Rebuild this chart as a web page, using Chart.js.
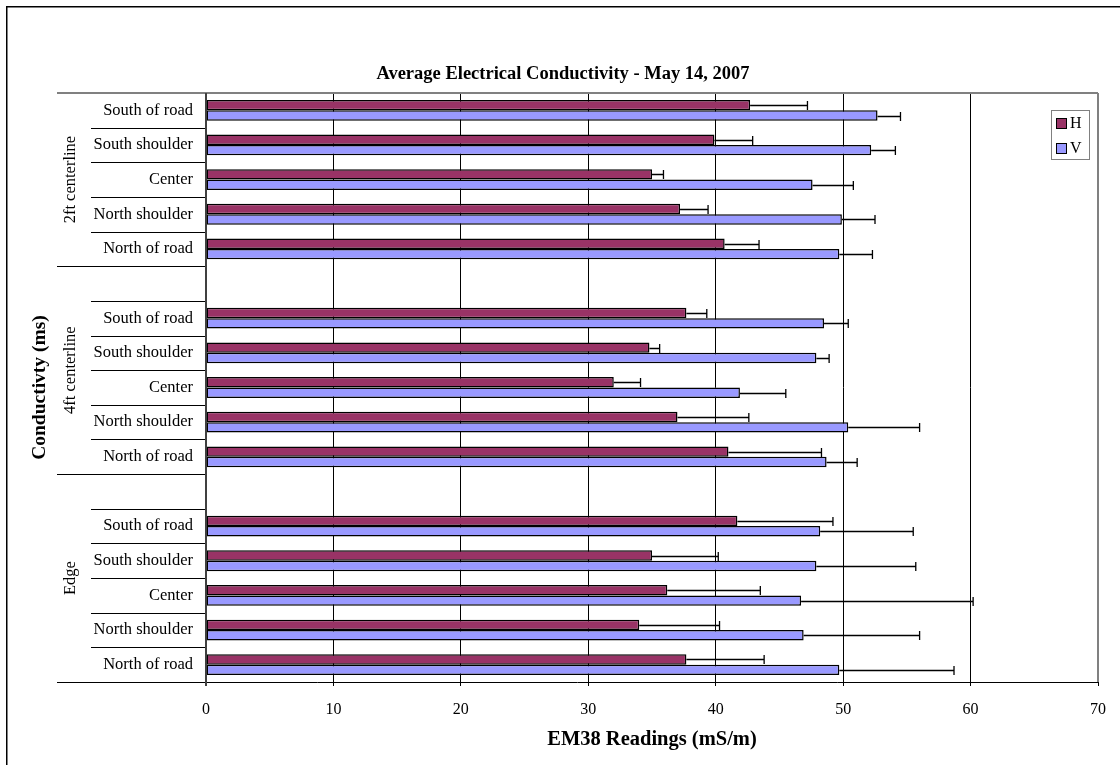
<!DOCTYPE html>
<html>
<head>
<meta charset="utf-8">
<title>Average Electrical Conductivity - May 14, 2007</title>
<script src="https://cdn.jsdelivr.net/npm/chart.js@4/dist/chart.umd.min.js"></script>
<style>
  html, body { margin: 0; padding: 0; background: #fff; }
  canvas { display: block; }
</style>
</head>
<body>
<canvas id="chart" width="1120" height="765"></canvas>
<script>
"use strict";

/* ── Datos ─────────────────────────────────────────────────────── */
const rowLabels   = ["South of road", "South shoulder", "Center", "North shoulder", "North of road"];
const groupLabels = ["2ft centerline", "4ft centerline", "Edge"];
// filas: 5 + hueco + 5 + hueco + 5
const categories  = [...rowLabels, "", ...rowLabels, "", ...rowLabels];

const hValues = [42.7, 39.9, 35.0, 37.2, 40.7, null, 37.7, 34.8, 32.0, 37.0, 41.0, null, 41.7, 35.0, 36.2, 34.0, 37.7];
const hErr    = [ 4.5,  3.0,  0.9,  2.2,  2.7, null,  1.6,  0.8,  2.1,  5.6,  7.3, null,  7.5,  5.2,  7.3,  6.3,  6.1];
const vValues = [52.7, 52.2, 47.6, 49.9, 49.7, null, 48.5, 47.9, 41.9, 50.4, 48.7, null, 48.2, 47.9, 46.7, 46.9, 49.7];
const vErr    = [ 1.8,  1.9,  3.2,  2.6,  2.6, null,  1.9,  1.0,  3.6,  5.6,  2.4, null,  7.3,  7.8, 13.5,  9.1,  9.0];

// índices (inicio, fin) de cada grupo, incluyendo la fila hueco previa
const groupRanges = [[0, 4], [5, 10], [11, 16]];

const xTicks = [0, 10, 20, 30, 40, 50, 60, 70];

/* ── Estilo ────────────────────────────────────────────────────── */
const FONT     = "'Liberation Serif', 'Times New Roman', serif";
const H_COLOR  = "#993366";
const V_COLOR  = "#9999FF";
const GRAY     = "#808080";

/* ── Plugin: fondo, marco, títulos, separadores, error bars, leyenda ── */
const decorPlugin = {
  id: "decor",
  beforeDraw(chart) {
    const { ctx, width, height } = chart;
    ctx.save();
    ctx.fillStyle = "#fff";
    ctx.fillRect(0, 0, width, height);
    ctx.restore();
  },
  afterDraw(chart) {
    const { ctx, chartArea: a, scales } = chart;
    const ys = scales.y, xs = scales.x;
    const rowH = ys.getPixelForValue(1) - ys.getPixelForValue(0);
    const edgeTop = i => ys.getPixelForValue(i) - rowH / 2;

    ctx.save();

    /* marco exterior (solo arriba/izquierda visibles) */
    ctx.strokeStyle = "#000";
    ctx.lineWidth = 1.5;
    ctx.strokeRect(6.75, 6.75, chart.width + 20, chart.height + 20);

    /* borde del área: arriba y derecha en gris */
    ctx.strokeStyle = GRAY;
    ctx.lineWidth = 2;
    ctx.beginPath();
    ctx.moveTo(a.left - 149, a.top);
    ctx.lineTo(a.right, a.top);
    ctx.moveTo(a.right, a.top);
    ctx.lineTo(a.right, a.bottom);
    ctx.stroke();

    /* separadores de categorías a la izquierda del eje */
    const groupEdges = new Set();
    groupRanges.forEach(([s, e]) => { groupEdges.add(s); groupEdges.add(e + 1); });
    ctx.strokeStyle = "#000";
    ctx.lineWidth = 1;
    for (let i = 1; i <= categories.length; i++) {
      const y = Math.round(edgeTop(i)) + 0.5;
      const x0 = groupEdges.has(i) ? a.left - 149 : a.left - 115;
      ctx.beginPath();
      ctx.moveTo(x0, y);
      ctx.lineTo(i === categories.length ? a.right : a.left, y);
      ctx.stroke();
    }

    /* eje izquierdo */
    ctx.strokeStyle = "#404040";
    ctx.lineWidth = 2;
    ctx.beginPath();
    ctx.moveTo(a.left, a.top);
    ctx.lineTo(a.left, a.bottom + 4);
    ctx.stroke();

    /* etiquetas de grupo (rotadas) */
    ctx.fillStyle = "#000";
    ctx.font = `16.5px ${FONT}`;
    ctx.textAlign = "center";
    ctx.textBaseline = "middle";
    groupRanges.forEach(([s, e], gi) => {
      const cy = (edgeTop(s) + edgeTop(e + 1)) / 2;
      ctx.save();
      ctx.translate(a.left - 135, cy);
      ctx.rotate(-Math.PI / 2);
      ctx.fillText(groupLabels[gi], 0, 0);
      ctx.restore();
    });

    /* título del eje Y */
    ctx.font = `bold 19.5px ${FONT}`;
    ctx.save();
    ctx.translate(40, (a.top + a.bottom) / 2);
    ctx.rotate(-Math.PI / 2);
    ctx.fillText("Conductivty (ms)", 0, 0);
    ctx.restore();

    /* título del eje X */
    ctx.font = `bold 20.5px ${FONT}`;
    ctx.fillText("EM38 Readings (mS/m)", (a.left + a.right) / 2, 740);

    /* título */
    ctx.font = `bold 18.5px ${FONT}`;
    ctx.fillText("Average Electrical Conductivity - May 14, 2007", 563, 74);

    /* error bars */
    const errs = [hErr, vErr];
    ctx.strokeStyle = "#000";
    ctx.lineWidth = 1.3;
    chart.data.datasets.forEach((ds, di) => {
      const meta = chart.getDatasetMeta(di);
      meta.data.forEach((bar, i) => {
        const v = ds.data[i], e = errs[di][i];
        if (v == null || e == null) return;
        const x0 = xs.getPixelForValue(v);
        const x1 = xs.getPixelForValue(v + e);
        const y  = Math.round(bar.y) + 0.5;
        ctx.beginPath();
        ctx.moveTo(x0, y);
        ctx.lineTo(x1, y);
        ctx.moveTo(x1, y - 4.5);
        ctx.lineTo(x1, y + 4.5);
        ctx.stroke();
      });
    });

    /* leyenda */
    const lx = 1051, ly = 110, lw = 38, lh = 49;
    ctx.fillStyle = "#fff";
    ctx.fillRect(lx, ly, lw, lh);
    ctx.strokeStyle = GRAY;
    ctx.lineWidth = 1;
    ctx.strokeRect(lx + 0.5, ly + 0.5, lw, lh);
    ctx.font = `16px ${FONT}`;
    ctx.textAlign = "left";
    ctx.textBaseline = "middle";
    chart.data.datasets.forEach((ds, di) => {
      const cy = ly + 13 + di * 25;
      ctx.fillStyle = ds.backgroundColor;
      ctx.fillRect(lx + 5, cy - 5, 10, 10);
      ctx.strokeStyle = "#000";
      ctx.lineWidth = 1;
      ctx.strokeRect(lx + 5.5, cy - 4.5, 10, 10);
      ctx.fillStyle = "#000";
      ctx.fillText(ds.label, lx + 19, cy + 1);
    });

    ctx.restore();
  }
};

/* ── Gráfico ───────────────────────────────────────────────────── */
new Chart(document.getElementById("chart"), {
  type: "bar",
  plugins: [decorPlugin],
  data: {
    labels: categories,
    datasets: [
      { label: "H", data: hValues, backgroundColor: H_COLOR, borderColor: "#000", borderWidth: 1.5, borderSkipped: false },
      { label: "V", data: vValues, backgroundColor: V_COLOR, borderColor: "#000", borderWidth: 1.5, borderSkipped: false },
    ]
  },
  options: {
    indexAxis: "y",
    responsive: false,
    devicePixelRatio: 1,
    animation: false,
    categoryPercentage: 0.6,
    barPercentage: 1.0,
    layout: { padding: { top: 93, right: 22, bottom: 0, left: 0 } },
    scales: {
      x: {
        type: "linear",
        min: 0, max: 70,
        afterFit: s => { s.height = 83; },
        afterBuildTicks: s => { s.ticks = xTicks.map(v => ({ value: v })); },
        ticks: { color: "#000", font: { family: FONT, size: 16 }, padding: 14 },
        grid: {
          color: c => (c.tick.value === 0 || c.tick.value === 70) ? "rgba(0,0,0,0)" : "#000",
          lineWidth: 1,
          tickLength: 4,
          tickColor: "#000",
        },
        border: { display: false },
      },
      y: {
        afterFit: s => { s.width = 206; },
        ticks: { color: "#000", font: { family: FONT, size: 16.5 }, padding: 13, autoSkip: false },
        grid: { display: false, drawTicks: false },
        border: { display: false },
      }
    },
    plugins: {
      legend: { display: false },
      tooltip: { enabled: false },
      title: { display: false },
    }
  }
});
</script>
</body>
</html>
